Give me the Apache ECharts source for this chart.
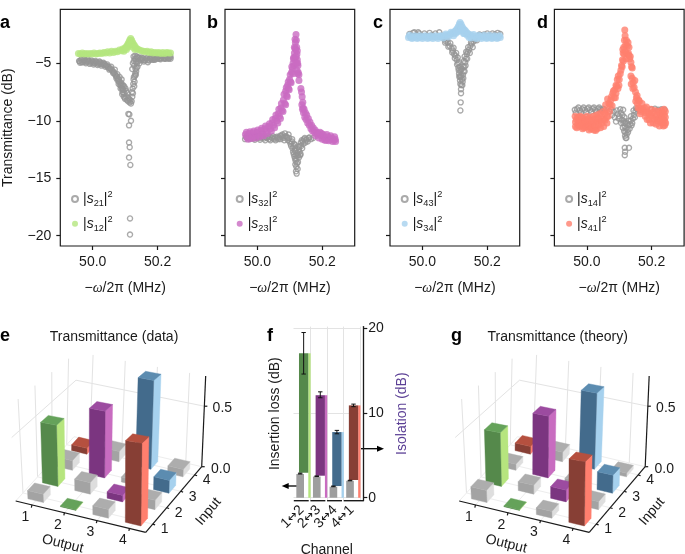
<!DOCTYPE html>
<html><head><meta charset="utf-8">
<style>html,body{margin:0;padding:0;background:#fff}#c{width:685px;height:554px}</style>
<script src="https://cdn.jsdelivr.net/npm/echarts@6/dist/echarts.min.js"></script>
</head><body><div id="c"></div>
<script>
const s21=[[49.958,-4.8],[49.964,-4.7],[49.97,-4.9],[49.976,-4.75],[49.982,-4.85],[49.988,-4.8],[49.994,-4.95],[50.0,-4.85],[50.006,-5.0],[50.012,-4.9],[50.018,-5.05],[50.024,-4.95],[50.03,-5.1],[50.036,-5.05],[50.042,-5.2],[50.048,-5.3],[50.054,-5.45],[50.06,-5.6],[50.066,-5.8],[50.07,-6.0],[50.074,-6.15],[50.078,-6.35],[50.082,-6.6],[50.085,-6.9],[50.088,-6.7],[50.09,-7.2],[50.092,-7.5],[50.094,-7.3],[50.096,-7.9],[50.098,-7.6],[50.1,-8.1],[50.103,-7.4],[50.106,-8.2],[50.11,-8.0],[50.114,-8.4],[50.118,-8.5],[50.11,-9.4],[50.113,-9.45],[50.112,-10.4],[50.118,-10.0],[50.112,-11.9],[50.114,-12.3],[50.112,-13.2],[50.116,-13.85],[50.115,-18.5],[50.115,-19.9],[50.122,-7.9],[50.123,-7.2],[50.125,-6.8],[50.127,-6.2],[50.129,-6.6],[50.131,-5.9],[50.133,-6.0],[50.135,-5.4],[50.122,-5.5],[50.124,-5.0],[50.126,-4.4],[50.128,-5.2],[50.13,-4.6],[50.133,-4.9],[50.136,-4.4],[50.14,-4.8],[50.144,-5.0],[50.148,-4.6],[50.152,-4.7],[50.158,-4.85],[50.164,-4.6],[50.17,-4.9],[50.176,-4.6],[50.182,-4.65],[50.188,-4.5],[50.194,-4.6],[50.2,-4.5],[50.206,-4.6],[50.212,-4.55],[50.218,-4.5],[50.224,-4.6],[50.23,-4.45],[50.236,-4.55],[50.24,-4.45],
[49.961,-4.95],[49.967,-4.6],[49.973,-4.65],[49.979,-5.0],[49.985,-4.65],[49.991,-5.05],[49.997,-4.75],[50.003,-5.1],[50.009,-4.8],[50.015,-5.15],[50.021,-4.85],[50.027,-5.2],[50.033,-4.95],[50.039,-5.3],[50.045,-5.1],[50.051,-5.55],[50.057,-5.3],[50.063,-5.85],[50.068,-5.55],[50.073,-6.3],[50.076,-5.95],[50.08,-6.8],[50.083,-6.2],[50.086,-7.2],[50.089,-6.4],[50.091,-7.7],[50.093,-6.9],[50.095,-7.6],[50.097,-7.0],[50.099,-8.0],[50.101,-7.2],[50.104,-7.9],[50.107,-7.6],[50.109,-8.3],[50.112,-8.1],[50.116,-8.2],[50.12,-8.3],[50.121,-7.5],[50.124,-7.6],[50.126,-6.4],[50.128,-7.0],[50.13,-6.1],[50.132,-5.5],[50.134,-5.7],[50.136,-5.0],[50.138,-5.3],[50.127,-4.8],[50.131,-4.35],[50.134,-4.6],[50.138,-4.5],[50.142,-4.5],[50.146,-4.75],[50.15,-4.5],[50.155,-4.55],[50.161,-4.75],[50.167,-4.55],[50.173,-4.75],[50.179,-4.5],[50.185,-4.7],[50.191,-4.7],[50.197,-4.45],[50.203,-4.4],[50.209,-4.65],[50.215,-4.4],[50.221,-4.6],[50.227,-4.4],[50.233,-4.6],[50.238,-4.35],
[49.96,-4.82],[49.966,-4.9],[49.972,-4.8],[49.978,-4.88],[49.984,-4.78],[49.99,-4.92],[49.996,-4.85],[50.002,-4.95],[50.008,-4.9],[50.014,-5.0],[50.02,-4.95],[50.026,-5.05],[50.032,-5.02],[50.038,-5.15],[50.044,-5.25],[50.05,-5.4],[50.056,-5.5],[50.062,-5.7],[50.067,-5.9],[50.072,-6.1],[50.077,-6.5],[50.081,-6.4],[50.084,-6.7],[50.087,-6.95],[50.09,-6.9],[50.092,-7.2],[50.095,-7.3],[50.15,-4.65],[50.16,-4.7],[50.17,-4.7],[50.18,-4.55],[50.19,-4.6],[50.2,-4.6],[50.21,-4.5],[50.22,-4.55],[50.23,-4.55],[50.24,-4.6]];
const s12=[[49.956,-4.15],[49.962,-4.2],[49.968,-4.1],[49.974,-4.2],[49.98,-4.15],[49.986,-4.2],[49.992,-4.15],[49.998,-4.2],[50.004,-4.1],[50.01,-4.2],[50.016,-4.15],[50.022,-4.1],[50.028,-4.15],[50.034,-4.05],[50.04,-4.1],[50.046,-4.0],[50.052,-4.1],[50.058,-3.95],[50.064,-4.05],[50.07,-3.95],[50.076,-4.0],[50.082,-3.85],[50.088,-3.9],[50.092,-3.75],[50.096,-3.8],[50.1,-3.65],[50.103,-3.6],[50.106,-3.45],[50.109,-3.3],[50.112,-3.15],[50.114,-3.0],[50.117,-2.85],[50.12,-3.0],[50.123,-3.2],[50.126,-3.35],[50.13,-3.5],[50.134,-3.7],[50.138,-3.75],[50.144,-3.85],[50.15,-3.9],[50.156,-3.95],[50.162,-4.0],[50.168,-3.95],[50.174,-4.05],[50.18,-4.0],[50.186,-4.1],[50.192,-4.05],[50.198,-4.1],[50.204,-4.05],[50.21,-4.15],[50.216,-4.05],[50.222,-4.15],[50.228,-4.05],[50.234,-4.1],[50.24,-4.1],
[50.108,-3.6],[50.112,-3.4],[50.116,-3.3],[50.12,-3.4],[50.124,-3.6],[50.096,-3.95],[50.104,-3.8],[50.13,-3.8]];
const s32=[[49.965,-11.4],[49.972,-11.5],[49.98,-11.4],[49.988,-11.55],[49.996,-11.45],[50.004,-11.5],[50.012,-11.4],[50.02,-11.55],[50.028,-11.45],[50.036,-11.6],[50.044,-11.45],[50.052,-11.6],[50.06,-11.4],[50.068,-11.45],[50.074,-11.3],[50.08,-11.5],[50.085,-11.1],[50.09,-11.4],[50.094,-11.7],[50.098,-11.5],[50.102,-12.0],[50.106,-11.8],[50.108,-12.4],[50.111,-12.2],[50.112,-12.9],[50.115,-12.6],[50.116,-13.3],[50.118,-13.0],[50.117,-13.8],[50.12,-14.0],[50.119,-14.4],[50.121,-14.6],[50.124,-14.2],[50.125,-13.6],[50.128,-13.2],[50.13,-12.7],[50.133,-12.9],[50.135,-12.2],[50.138,-12.4],[50.14,-11.8],[50.144,-11.6],[50.148,-11.9],[50.152,-11.6],[50.158,-11.5],[50.165,-11.6],[50.172,-11.5],
[49.962,-11.6],[49.968,-11.3],[49.976,-11.6],[49.984,-11.3],[49.992,-11.65],[50.0,-11.35],[50.008,-11.65],[50.016,-11.3],[50.024,-11.7],[50.032,-11.35],[50.04,-11.7],[50.048,-11.35],[50.056,-11.7],[50.064,-11.6],[50.071,-11.6],[50.077,-11.2],[50.083,-11.7],[50.087,-11.35],[50.092,-11.5],[50.096,-11.2],[50.1,-11.8],[50.104,-12.2],[50.107,-11.6],[50.11,-12.7],[50.113,-12.0],[50.114,-13.1],[50.117,-12.4],[50.118,-13.5],[50.12,-13.3],[50.122,-13.7],[50.123,-12.8],[50.126,-13.0],[50.127,-12.3],[50.13,-12.2],[50.132,-13.0],[50.134,-11.9],[50.137,-11.7],[50.142,-12.0],[50.146,-11.5],[50.15,-11.7],[50.155,-11.8],[50.16,-11.45],
[49.966,-11.45],[49.974,-11.4],[49.982,-11.5],[49.99,-11.4],[49.998,-11.5],[50.006,-11.4],[50.014,-11.5],[50.022,-11.4],[50.03,-11.5],[50.038,-11.4],[50.046,-11.55],[50.054,-11.45],[50.062,-11.5],[50.07,-11.3],[50.078,-11.4],[50.116,-12.1],[50.122,-13.0],[50.128,-12.5],[50.118,-12.6]];
const s23=[[49.963,-11.2],[49.968,-11.45],[49.974,-11.1],[49.98,-11.4],[49.986,-11.05],[49.992,-11.3],[49.998,-11.0],[50.004,-11.2],[50.01,-10.85],[50.016,-11.1],[50.022,-10.7],[50.028,-10.9],[50.034,-10.5],[50.04,-10.7],[50.045,-10.2],[50.05,-10.4],[50.055,-9.8],[50.06,-10.0],[50.064,-9.4],[50.068,-9.6],[50.072,-8.9],[50.076,-9.1],[50.08,-8.2],[50.084,-8.5],[50.087,-7.4],[50.09,-7.8],[50.093,-6.9],[50.096,-7.2],[50.099,-6.4],[50.102,-6.6],[50.105,-5.8],[50.108,-5.5],[50.11,-5.0],[50.112,-4.5],[50.114,-4.1],[50.116,-3.7],[50.117,-3.2],[50.116,-2.9],[50.119,-2.5],[50.12,-3.0],[50.121,-3.6],[50.122,-4.2],[50.123,-4.7],[50.125,-5.2],[50.126,-5.8],[50.128,-6.0],[50.136,-7.5],[50.138,-7.9],[50.14,-8.4],[50.139,-9.0],[50.142,-9.3],[50.146,-9.7],[50.15,-9.9],[50.155,-10.2],[50.16,-10.4],[50.165,-10.7],[50.17,-10.9],[50.176,-11.0],[50.18,-11.3],[50.186,-11.2],[50.19,-11.5],[50.196,-11.3],[50.2,-11.6],[50.206,-11.4],[50.212,-11.7],[50.218,-11.4],[50.224,-11.6],[50.23,-11.5],[50.236,-11.7],[50.24,-11.6],
[49.966,-11.0],[49.971,-11.6],[49.977,-10.95],[49.983,-11.55],[49.989,-10.9],[49.995,-11.5],[50.001,-10.8],[50.007,-11.4],[50.013,-10.65],[50.019,-11.3],[50.025,-10.45],[50.031,-11.1],[50.037,-10.25],[50.043,-10.9],[50.047,-9.9],[50.053,-10.6],[50.057,-9.5],[50.063,-10.2],[50.066,-9.0],[50.071,-9.8],[50.074,-8.5],[50.079,-9.2],[50.082,-7.7],[50.087,-8.6],[50.089,-7.1],[50.092,-7.9],[50.095,-6.6],[50.098,-7.3],[50.101,-6.0],[50.104,-6.7],[50.106,-5.3],[50.109,-5.9],[50.111,-4.6],[50.113,-5.2],[50.114,-3.6],[50.116,-4.6],[50.118,-3.8],[50.119,-4.4],[50.12,-5.0],[50.122,-5.6],[50.124,-5.9],[50.123,-3.9],[50.124,-5.0],[50.128,-6.5],[50.134,-7.2],[50.137,-8.6],[50.141,-8.9],[50.144,-9.0],[50.148,-9.3],[50.152,-9.5],[50.157,-9.8],[50.162,-10.1],[50.167,-10.4],[50.172,-10.6],[50.178,-10.8],[50.183,-11.0],[50.188,-11.1],[50.193,-11.0],[50.198,-11.1],[50.203,-11.2],[50.208,-11.7],[50.214,-11.2],[50.22,-11.75],[50.226,-11.3],[50.232,-11.8],[50.238,-11.4],[50.241,-11.8]];
const s43=[[49.96,-2.45],[49.968,-2.6],[49.975,-2.3],[49.983,-2.55],[49.99,-2.4],[49.998,-2.6],[50.006,-2.4],[50.014,-2.6],[50.022,-2.35],[50.03,-2.55],[50.04,-2.4],[50.052,-2.3],[50.06,-2.6],[50.066,-2.85],[50.072,-3.05],[50.078,-3.2],[50.084,-3.5],[50.09,-3.7],[50.094,-3.9],[50.098,-4.2],[50.102,-4.35],[50.106,-4.7],[50.11,-5.0],[50.112,-5.6],[50.115,-5.3],[50.114,-6.2],[50.116,-6.5],[50.119,-7.25],[50.119,-7.6],[50.118,-8.4],[50.117,-9.1],[50.12,-6.9],[50.122,-6.4],[50.124,-6.6],[50.125,-6.0],[50.127,-5.7],[50.129,-5.3],[50.132,-4.9],[50.134,-4.6],[50.137,-4.2],[50.14,-4.0],[50.144,-3.8],[50.148,-3.5],[50.152,-3.3],[50.158,-3.1],[50.164,-2.9],[50.172,-2.7],[50.18,-2.55],[50.19,-2.5],[50.2,-2.4],[50.208,-2.55],[50.216,-2.4],[50.224,-2.5],[50.232,-2.35],[50.24,-2.45],
[49.963,-2.7],[49.971,-2.35],[49.979,-2.65],[49.987,-2.3],[49.995,-2.65],[50.064,-2.7],[50.07,-3.2],[50.075,-2.95],[50.08,-3.55],[50.086,-3.25],[50.092,-4.05],[50.096,-3.65],[50.1,-4.55],[50.104,-4.1],[50.107,-5.1],[50.109,-4.5],[50.111,-5.4],[50.113,-4.9],[50.113,-5.9],[50.115,-6.1],[50.117,-5.6],[50.117,-6.8],[50.118,-6.2],[50.12,-6.1],[50.12,-5.5],[50.122,-5.5],[50.123,-6.9],[50.125,-5.3],[50.126,-6.3],[50.128,-4.8],[50.13,-5.7],[50.13,-4.4],[50.133,-5.2],[50.135,-4.0],[50.138,-4.6],[50.141,-3.6],[50.146,-4.1],[50.15,-3.2],[50.155,-3.6],[50.16,-2.9],[50.168,-3.0],[50.176,-2.5]];
const s34=[[49.957,-2.75],[49.964,-2.7],[49.972,-2.75],[49.98,-2.7],[49.988,-2.75],[49.996,-2.72],[50.004,-2.7],[50.012,-2.72],[50.02,-2.75],[50.028,-2.7],[50.036,-2.72],[50.044,-2.7],[50.052,-2.68],[50.06,-2.65],[50.068,-2.6],[50.076,-2.55],[50.084,-2.5],[50.09,-2.4],[50.095,-2.35],[50.1,-2.2],[50.104,-2.1],[50.108,-1.95],[50.111,-1.8],[50.114,-1.6],[50.116,-1.45],[50.119,-1.6],[50.122,-1.8],[50.125,-1.95],[50.128,-2.05],[50.132,-2.15],[50.136,-2.3],[50.14,-2.4],[50.146,-2.5],[50.152,-2.6],[50.16,-2.65],[50.168,-2.7],[50.176,-2.68],[50.184,-2.72],[50.192,-2.7],[50.2,-2.75],[50.208,-2.7],[50.216,-2.75],[50.224,-2.72],[50.232,-2.75],[50.24,-2.75],
[49.96,-2.55],[49.968,-2.85],[49.976,-2.6],[49.984,-2.85],[49.992,-2.6],[50.0,-2.85],[50.008,-2.6],[50.016,-2.85],[50.024,-2.6],[50.032,-2.85],[50.04,-2.6],[50.048,-2.85],[50.056,-2.6],[50.064,-2.8],[50.072,-2.45],[50.08,-2.7],[50.088,-2.3],[50.096,-2.6],[50.102,-2.4],[50.106,-2.3],[50.11,-2.1],[50.114,-2.2],[50.118,-2.1],[50.12,-1.95],[50.124,-2.2],[50.127,-2.4],[50.13,-2.4],[50.138,-2.55],[50.144,-2.75],[50.15,-2.8],[50.158,-2.5],[50.166,-2.85],[50.174,-2.55],[50.182,-2.85],[50.19,-2.55],[50.198,-2.85],[50.206,-2.55],[50.214,-2.85],[50.222,-2.6],[50.23,-2.85],[50.238,-2.6]];
const s14=[[49.963,-9.05],[49.97,-9.0],[49.978,-9.1],[49.986,-9.0],[49.994,-9.05],[50.002,-8.95],[50.01,-9.05],[50.018,-8.95],[50.026,-9.05],[50.034,-8.95],[50.042,-9.0],[50.05,-8.95],[50.07,-9.2],[50.078,-9.5],[50.086,-9.7],[50.09,-10.07],[50.095,-9.4],[50.1,-9.6],[50.105,-9.3],[50.108,-9.9],[50.112,-9.05],[50.113,-10.2],[50.116,-9.7],[50.117,-10.5],[50.119,-11.0],[50.12,-11.5],[50.117,-12.35],[50.13,-12.35],[50.118,-12.7],[50.117,-13.0],[50.123,-11.2],[50.126,-10.8],[50.128,-10.4],[50.132,-10.7],[50.135,-10.0],[50.138,-10.4],[50.142,-9.8],[50.145,-9.5],[50.15,-9.2],[50.155,-9.0],[50.2,-9.0],[50.21,-8.95],[50.22,-9.05],[50.23,-9.0],[50.24,-9.05],
[49.966,-9.3],[49.974,-8.85],[49.982,-9.3],[49.99,-8.85],[49.998,-9.25],[50.006,-8.85],[50.014,-9.2],[50.022,-8.85],[50.03,-9.2],[50.038,-8.85],[50.046,-9.1],[50.054,-9.0],[50.075,-9.0],[50.083,-9.2],[50.092,-9.1],[50.098,-9.8],[50.103,-9.0],[50.106,-10.2],[50.11,-9.5],[50.111,-10.6],[50.114,-10.0],[50.115,-10.9],[50.118,-10.2],[50.118,-11.3],[50.121,-10.7],[50.122,-11.5],[50.124,-10.2],[50.127,-11.0],[50.13,-10.0],[50.133,-10.3],[50.136,-9.6],[50.14,-10.2],[50.144,-9.1],[50.148,-9.7],[50.152,-8.9],[50.16,-9.1]];
const s41=[[49.964,-9.6],[49.965,-10.1],[49.965,-10.5],[49.972,-9.7],[49.973,-10.3],[49.98,-9.6],[49.981,-10.0],[49.982,-10.45],[49.99,-9.8],[49.991,-10.2],[49.992,-10.6],[50.0,-9.6],[50.001,-10.1],[50.002,-10.5],[50.01,-9.7],[50.011,-10.3],[50.012,-10.7],[50.02,-9.6],[50.021,-10.2],[50.022,-10.8],[50.03,-9.5],[50.031,-10.1],[50.032,-10.7],[50.04,-9.4],[50.041,-10.0],[50.042,-10.6],[50.05,-9.2],[50.051,-9.9],[50.052,-10.5],[50.058,-8.6],[50.06,-9.1],[50.061,-9.7],[50.062,-10.2],[50.064,-8.1],[50.068,-8.5],[50.07,-9.2],[50.074,-8.2],[50.078,-8.7],[50.08,-7.6],[50.084,-8.0],[50.086,-7.3],[50.09,-7.6],[50.092,-7.0],[50.094,-6.4],[50.097,-6.1],[50.099,-6.9],[50.103,-5.9],[50.107,-5.2],[50.11,-4.7],[50.112,-4.1],[50.114,-3.6],[50.116,-3.0],[50.117,-2.1],[50.118,-2.6],[50.12,-3.4],[50.122,-3.0],[50.125,-3.5],[50.128,-4.1],[50.13,-3.6],[50.132,-4.6],[50.136,-4.9],[50.138,-5.3],[50.136,-6.1],[50.14,-6.3],[50.143,-6.7],[50.146,-7.1],[50.15,-7.5],[50.153,-8.0],[50.156,-8.5],[50.16,-8.2],[50.163,-8.9],[50.165,-9.4],[50.17,-8.5],[50.175,-9.1],[50.18,-9.6],[50.184,-8.8],[50.19,-9.3],[50.192,-9.9],[50.198,-9.0],[50.2,-9.6],[50.205,-10.2],[50.21,-9.1],[50.212,-9.7],[50.214,-10.3],[50.22,-9.2],[50.222,-9.8],[50.224,-10.45],[50.23,-9.1],[50.231,-9.6],[50.232,-10.2],[50.238,-9.0],[50.239,-9.5],[50.24,-10.0],[50.24,-10.4],
[49.968,-9.9],[49.969,-10.6],[49.976,-10.0],[49.977,-10.5],[49.985,-9.7],[49.986,-10.25],[49.987,-10.7],[49.995,-10.0],[49.996,-10.55],[50.005,-9.85],[50.006,-10.4],[50.007,-10.8],[50.015,-10.0],[50.016,-10.6],[50.025,-9.85],[50.026,-10.45],[50.027,-10.85],[50.035,-9.75],[50.036,-10.35],[50.045,-9.6],[50.046,-10.2],[50.055,-9.4],[50.056,-9.95],[50.066,-9.6],[50.072,-8.6],[50.076,-7.9],[50.082,-7.4],[50.088,-8.0],[50.09,-6.9],[50.096,-7.2],[50.1,-6.4],[50.105,-5.6],[50.109,-5.3],[50.111,-3.8],[50.113,-4.8],[50.115,-4.2],[50.119,-4.0],[50.121,-4.6],[50.124,-4.2],[50.127,-3.2],[50.13,-4.3],[50.134,-4.4],[50.14,-5.4],[50.137,-6.8],[50.142,-7.2],[50.148,-6.5],[50.151,-8.3],[50.155,-7.8],[50.158,-8.9],[50.162,-8.3],[50.168,-9.2],[50.172,-9.0],[50.178,-8.9],[50.182,-9.3],[50.186,-9.9],[50.194,-9.4],[50.196,-10.2],[50.202,-9.3],[50.207,-9.85],[50.216,-9.5],[50.218,-10.0],[50.226,-9.4],[50.228,-10.1],[50.234,-9.3],[50.235,-9.9],[50.236,-10.45],[50.242,-9.2],[50.242,-9.7],[50.243,-10.2]];

const freqTicks=[50.0,50.2];
const dbTicks=[-20,-15,-10,-5];

const outputLabels=['1','2','3','4'];
const inputLabels=['1','2','3','4'];
// transmittance: rows = input 4..1 (back to front), columns = output 1..4
const dataInput4=[0.05,0.085,0.73,0.06];
const dataInput3=[0.08,0.54,0.04,0.10];
const dataInput2=[0.49,0.09,0.05,0.07];
const dataInput1=[0.065,0.005,0.065,0.60];
const theoryInput4=[0.065,0.08,0.625,0.03];
const theoryInput3=[0.05,0.50,0.03,0.14];
const theoryInput2=[0.43,0.07,0.09,0.06];
const theoryInput1=[0.095,0.005,0.05,0.465];
const barTone=[[4,0,3,0],[0,2,0,3],[1,0,2,0],[0,1,0,4]];

const channels=['1↔2','2↔3','3↔4','4↔1'];
const isolation=[17.05,12.1,7.75,10.9];
const isolationLow=[14.6,11.8,7.55,10.75];
const isolationHigh=[19.5,12.5,7.95,11.05];
const insertionLoss=[2.8,2.5,1.3,2.0];
const insertionLossHigh=[2.9,2.58,1.38,2.06];
const darkBase=[2.95,2.6,1.38,2.09];

const INK='#1a1a1a',FONT='"Liberation Sans",Arial,sans-serif',FS=14;
const PAL={
 gray:{dark:'#a3a3a3',top:'#adadad',light:'#dedede'},
 green:{dark:'#55894b',top:'#65a25a',light:'#b6e57e'},
 purple:{dark:'#7b3580',top:'#9c4ba0',light:'#c86cc0'},
 blue:{dark:'#436b8c',top:'#5c8cb0',light:'#a6d1ee'},
 red:{dark:'#873f35',top:'#b5503f',light:'#ff7f6e'}
};
const TONES=['gray','green','purple','blue','red'];

const panels=[
 {a:s21,b:s12,left:60.3,col:'#b4e67e'},
 {a:s32,b:s23,left:225,col:'#c96cc2'},
 {a:s43,b:s34,left:390,col:'#a6d1ee'},
 {a:s14,b:s41,left:554.4,col:'#ff7f6e'}
];
const names=[['s21','s12'],['s32','s23'],['s43','s34'],['s14','s41']];
const grids=[],xAxes=[],yAxes=[],series=[],legends=[];
panels.forEach((p,i)=>{
 grids.push({left:p.left,top:9.3,width:129.7,height:236.7,show:true,outerBoundsMode:'none',borderColor:INK,borderWidth:1.2,backgroundColor:'transparent'});
 xAxes.push({type:'value',gridIndex:i,min:49.9,max:50.3,
  name:'−{i|ω}/2π (MHz)',nameLocation:'middle',nameGap:35,
  nameTextStyle:{color:INK,fontFamily:FONT,fontSize:FS,rich:{i:{fontStyle:'italic',fontFamily:'"Liberation Serif",serif',fontSize:FS,color:INK}}},
  splitLine:{show:false},axisLine:{show:false},
  axisTick:{show:true,length:4,customValues:freqTicks,lineStyle:{color:INK,width:1.2}},
  axisLabel:{customValues:freqTicks,color:INK,fontFamily:FONT,fontSize:FS,margin:9,formatter:v=>v.toFixed(1)}});
 yAxes.push({type:'value',gridIndex:i,min:-20.9,max:-0.3,
  name:i===0?'Transmittance (dB)':'',nameLocation:'middle',nameGap:45,
  nameTextStyle:{color:INK,fontFamily:FONT,fontSize:FS},
  splitLine:{show:false},axisLine:{show:false},
  axisTick:{show:true,length:4,customValues:dbTicks,lineStyle:{color:INK,width:1.2}},
  axisLabel:{show:i===0,customValues:dbTicks,color:INK,fontFamily:FONT,fontSize:FS,margin:9,formatter:v=>'−'+Math.abs(v)}});
 series.push({type:'scatter',name:names[i][0],xAxisIndex:i,yAxisIndex:i,data:p.a,symbol:'circle',symbolSize:5.1,
  itemStyle:{color:'#ffffff00',borderColor:'#959595',borderWidth:1.35}});
 series.push({type:'scatter',name:names[i][1],xAxisIndex:i,yAxisIndex:i,data:p.b,symbol:'circle',symbolSize:7,
  itemStyle:{color:p.col}});
 legends.push({orient:'vertical',left:p.left+10.7,top:190,itemWidth:6,itemHeight:6,itemGap:6.7,padding:0,
  data:names[i].map(n=>({name:n,icon:'circle'})),selectedMode:false,
  formatter:n=>'|{i|s}{b|'+n.slice(1)+'}|{p|2}',
  textStyle:{color:INK,fontFamily:FONT,fontSize:FS,lineHeight:18,rich:{
   i:{fontStyle:'italic',fontFamily:FONT,fontSize:FS,color:INK,lineHeight:18},
   b:{fontFamily:FONT,fontSize:9.2,color:INK,verticalAlign:'bottom',lineHeight:18},
   p:{fontFamily:FONT,fontSize:9.2,color:INK,verticalAlign:'top',lineHeight:18}}}});
});

// ---------- 3D bars ----------
const W=0.12;
const FLOOR={fl:[15.7,501],fr:[145.7,532.3],bl:[74,436.7],br:[201.7,466.7]};
const ZV={fl:[-8,-127],fr:[2,-140],bl:[4,-113],br:[5.3,-121]};
function bil(c,u,v){
 const f=k=>(c.fl[k]*(1-u)+c.fr[k]*u)*(1-v)+(c.bl[k]*(1-u)+c.br[k]*u)*v;
 return [f(0),f(1)];
}
function proj(ox,u,v,z){
 const b=bil(FLOOR,u,v),d=bil(ZV,u,v);
 return [b[0]+d[0]*z+ox,b[1]+d[1]*z];
}
function bars3d(ox,rows){
 const data=[];
 rows.forEach((r,ri)=>r.forEach((z,c)=>data.push([c+1,4-ri,z,barTone[ri][c]])));
 return {type:'custom',coordinateSystem:'none',silent:true,z:3,data,clip:false,
  renderItem(params,api){
   const o=api.value(0),n=api.value(1),z=api.value(2),t=PAL[TONES[api.value(3)]];
   const u0=(o-0.5)/4-W/2,u1=u0+W,v0=(n-0.5)/4-W/2,v1=v0+W;
   const face=(pts,col)=>({type:'polygon',shape:{points:pts},style:{fill:col,stroke:col,lineWidth:0.4}});
   return {type:'group',children:[
    face([proj(ox,u1,v0,0),proj(ox,u1,v1,0),proj(ox,u1,v1,z),proj(ox,u1,v0,z)],t.light),
    face([proj(ox,u0,v0,0),proj(ox,u1,v0,0),proj(ox,u1,v0,z),proj(ox,u0,v0,z)],t.dark),
    face([proj(ox,u0,v0,z),proj(ox,u1,v0,z),proj(ox,u1,v1,z),proj(ox,u0,v1,z)],t.top)
   ]};
  }};
}
function frame3d(ox){
 return {type:'custom',coordinateSystem:'none',silent:true,z:2,data:[[0]],clip:false,
  renderItem(){
   const ch=[],G='#e3e3e3',F='#ededed';
   const line=(a,b,c,w)=>ch.push({type:'line',shape:{x1:a[0],y1:a[1],x2:b[0],y2:b[1]},style:{stroke:c,lineWidth:w}});
   const txt=(s,x,y,rot)=>ch.push({type:'text',x,y,rotation:rot||0,style:{text:s,fill:INK,font:FS+'px '+FONT,align:'center',verticalAlign:'middle'}});
   const ZT=0.75;
   [0.125,0.375,0.625,0.875].forEach(t=>{
    line(proj(ox,t,0,0),proj(ox,t,1,0),F,1);
    line(proj(ox,0,t,0),proj(ox,1,t,0),F,1);
    line(proj(ox,0,t,0),proj(ox,0,t,ZT),G,1);
    line(proj(ox,t,1,0),proj(ox,t,1,ZT),G,1);
   });
   line(proj(ox,0,0,0),proj(ox,0,1,0),F,1);
   line(proj(ox,0,1,0),proj(ox,1,1,0),F,1);
   line(proj(ox,0,0,0.5),proj(ox,0,1,0.5),G,1);
   line(proj(ox,0,1,0.5),proj(ox,1,1,0.5),G,1);
   line(proj(ox,0,0,0),proj(ox,1,0,0),INK,1.2);
   line(proj(ox,1,0,0),proj(ox,1,1,0),INK,1.2);
   line(proj(ox,1,1,0),proj(ox,1,1,ZT),INK,1.2);
   [0.125,0.375,0.625,0.875].forEach((t,i)=>{
    const a=proj(ox,t,0,0),b=proj(ox,1,t,0);
    line(a,[a[0]-0.6,a[1]+2.6],INK,1.2);
    line(b,[b[0]+2.4,b[1]+0.8],INK,1.2);
    txt(outputLabels[i],a[0]-6.5,a[1]+12);
    txt(inputLabels[i],b[0]+12,b[1]+5.5);
   });
   const z0=proj(ox,1,1,0),z5=proj(ox,1,1,0.5);
   line(z0,[z0[0]+3,z0[1]],INK,1.2);line(z5,[z5[0]+3,z5[1]],INK,1.2);
   txt('0.0',z0[0]+19,z0[1]+2);txt('0.5',z5[0]+18,z5[1]+2);
   txt('Output',ox+62.7,544,-0.24);
   txt('Input',ox+208.5,511.5,0.87);
   return {type:'group',children:ch};
  }};
}
const eRows=[dataInput4,dataInput3,dataInput2,dataInput1];
const gRows=[theoryInput4,theoryInput3,theoryInput2,theoryInput1];
series.push(frame3d(0),bars3d(0,eRows),frame3d(443.5),bars3d(443.5,gRows));

// ---------- panel f ----------
const fi=4;
grids.push({left:293.5,top:326.6,width:66.5,height:174.1,show:false,outerBoundsMode:'none'});
xAxes.push({type:'category',gridIndex:fi,data:channels,boundaryGap:true,
 name:'Channel',nameLocation:'middle',nameGap:42,nameTextStyle:{color:INK,fontFamily:FONT,fontSize:FS},
 axisLine:{show:false},axisTick:{show:false},
 splitLine:{show:true,showMinLine:false,interval:0,lineStyle:{color:'#e3e3e3',width:1}},
 axisLabel:{rotate:45,interval:0,color:INK,fontFamily:FONT,fontSize:FS,margin:7,
  formatter:s=>s[0]+'{ar|↔}'+s[2],
  rich:{ar:{fontFamily:'"DejaVu Sans",sans-serif',fontSize:12.5,color:INK}}}});
const fTicks=[0,10,20];
yAxes.push({type:'value',gridIndex:fi,position:'right',offset:3.3,min:-0.35,max:20.2,
 name:'Isolation (dB)',nameLocation:'middle',nameGap:32,nameRotate:90,
 nameTextStyle:{color:'#5b3f95',fontFamily:FONT,fontSize:FS},
 axisLine:{show:true,onZero:false,lineStyle:{color:INK,width:1.3}},
 axisTick:{show:true,length:4,customValues:fTicks,lineStyle:{color:INK,width:1.2}},
 splitLine:{show:true,lineStyle:{color:'#e3e3e3',width:1}},
 axisLabel:{customValues:fTicks,color:INK,fontFamily:FONT,fontSize:FS,margin:5}});
yAxes.push({type:'value',gridIndex:fi,position:'left',min:-0.35,max:20.2,
 name:'Insertion loss (dB)',nameLocation:'middle',nameGap:11,
 nameTextStyle:{color:INK,fontFamily:FONT,fontSize:FS},
 axisLine:{show:false},axisTick:{show:false},axisLabel:{show:false},splitLine:{show:false}});
const CH=['green','purple','blue','red'];
function fBar(vals,base,offA,offB,colorKey){
 return {type:'custom',xAxisIndex:fi,yAxisIndex:fi,silent:true,z:3,clip:false,
  data:channels.map((c,i)=>[i,vals[i],base?base[i]:0]),
  encode:{x:0,y:1},
  renderItem(params,api){
   const i=api.value(0),top=api.coord([i,api.value(1)]),bot=api.coord([i,api.value(2)]);
   const cw=api.size([1,0])[0],l=top[0]-cw/2;
   return {type:'rect',shape:{x:l+offA*cw,y:top[1],width:(offB-offA)*cw,height:bot[1]-top[1]},
    style:{fill:colorKey(i)}};
  }};
}
function fErr(low,high,off,w){
 return {type:'custom',xAxisIndex:fi,yAxisIndex:fi,silent:true,z:4,clip:false,
  data:channels.map((c,i)=>[i,low[i],high[i]]),encode:{x:0,y:[1,2]},
  renderItem(params,api){
   const i=api.value(0),a=api.coord([i,api.value(1)]),b=api.coord([i,api.value(2)]);
   const cw=api.size([1,0])[0],x=a[0]-cw/2+off*cw;
   const ln=(x1,y1,x2,y2)=>({type:'line',shape:{x1,y1,x2,y2},style:{stroke:'#111',lineWidth:1}});
   return {type:'group',children:[ln(x,a[1],x,b[1]),ln(x-w,a[1],x+w,a[1]),ln(x-w,b[1],x+w,b[1])]};
  }};
}
series.push(
 fBar(isolation,null,0.89,1.03,i=>PAL[CH[i]].light),
 fBar(isolation,darkBase,0.33,0.89,i=>PAL[CH[i]].dark),
 fBar(insertionLoss,null,0.17,0.63,()=>'#9e9e9e'),
 fErr(isolationLow,isolationHigh,0.61,2.2),
 fErr(insertionLoss,insertionLossHigh,0.4,2.2),
 {type:'custom',xAxisIndex:fi,yAxisIndex:fi,silent:true,z:5,clip:false,
  data:channels.map((c,i)=>[i,0]),encode:{x:0,y:1},
  renderItem(params,api){
   const i=api.value(0),p=api.coord([i,-0.35]),cw=api.size([1,0])[0];
   return {type:'line',shape:{x1:p[0]-cw/2+0.3,y1:p[1],x2:p[0]+cw/2+(i===3?3.3:-1.4),y2:p[1]},style:{stroke:INK,lineWidth:1.4}};
  }}
);

// ---------- annotations ----------
const letter=(s,x,y)=>({type:'text',x,y,style:{text:s,fill:'#000',font:'bold 18px '+FONT,align:'left',verticalAlign:'alphabetic'}});
const title=(s,x,y)=>({type:'text',x,y,style:{text:s,fill:INK,font:FS+'px '+FONT,align:'center',verticalAlign:'middle'}});
const arrow=(x1,x2,y)=>{const d=x2>x1?1:-1;return [
 {type:'line',shape:{x1,y1:y,x2:x2-d*5,y2:y},style:{stroke:'#000',lineWidth:1.3}},
 {type:'polygon',shape:{points:[[x2,y],[x2-d*7,y-3],[x2-d*7,y+3]]},style:{fill:'#000'}}];};
const graphic=[
 letter('a',0,14),letter('b',207,14),letter('c',373,14),letter('d',537,14),
 letter('e',0,327),letter('f',267,327),letter('g',451,327),
 title('Transmittance (data)',114,337),title('Transmittance (theory)',557.7,337),
 ...arrow(297.7,281.7,486),...arrow(359,384,448.7)
];
const chart=echarts.init(document.getElementById('c'),null,{renderer:'canvas'});
chart.setOption({animation:false,backgroundColor:'#fff',grid:grids,xAxis:xAxes,yAxis:yAxes,series,legend:legends,graphic,tooltip:{show:false}});
</script></body></html>
